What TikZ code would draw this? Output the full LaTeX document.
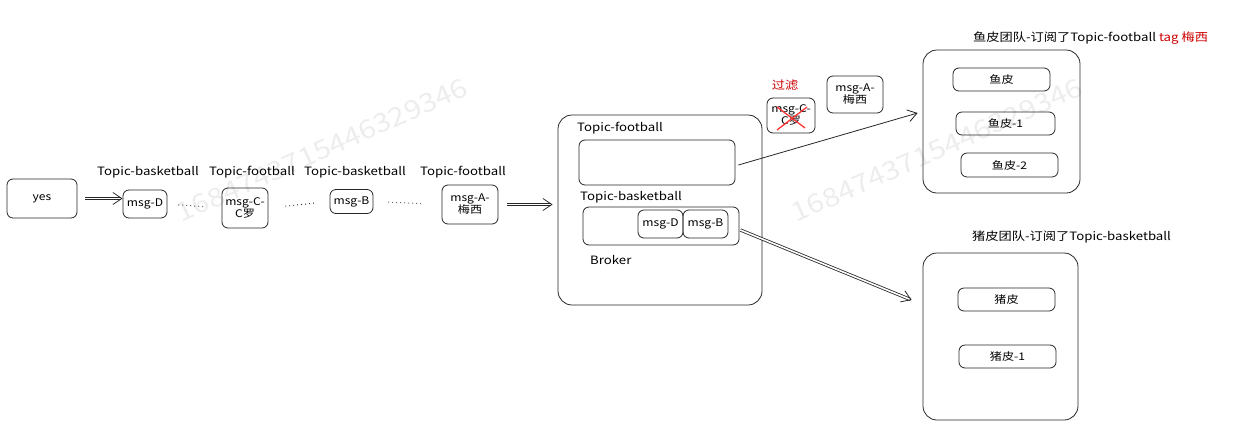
\documentclass[tikz,border=0pt]{standalone}
\usepackage{fontspec}
\setmainfont{Noto Sans CJK SC}[FakeStretch=1.15]
\usetikzlibrary{arrows.meta, positioning}
\usepackage{xcolor}

\begin{document}
\begin{tikzpicture}[ 
x=1pt, y=-1pt,
font=\fontsize{11.5}{13}\selectfont,
line/.style={draw=black!85, line width=0.8pt},
msg/.style={line, 
rectangle, 
rounded corners=6pt, 
inner sep=1pt, 
font=\fontsize{10.5}{12}\selectfont, 
align=center}, 
group/.style={line, 
rectangle, 
rounded corners=14pt}, 
lbl/.style={inner sep=0pt}, 
arrow/.style={-{Straight Barb[length=9pt, width=12pt]}, line}, 
dblarrow/.style={-{Straight Barb[length=9pt, width=12pt]}, line, double, double distance=1.6pt}, 
dots/.style={line, line width=1pt, dash pattern=on 0.8pt off 3.2pt}, 
watermark/.style={text=black!7, font=\fontsize{26}{26}\selectfont, rotate=24}
]

\useasboundingbox (0,0) rectangle (1234,437);

\node[watermark] (wm0) at (322,150) {1684743715446329346};
\node[watermark] (wm1) at (937,150) {1684743715446329346};

\node[msg, minimum width=70pt, minimum height=39pt] (yes) at (42,198.5) {yes};
\node[msg, minimum width=44pt, minimum height=28pt] (msgD) at (145,204) {msg-D};
\node[msg, minimum width=46pt, minimum height=40pt] (msgC) at (245,208) {msg-C-\\C罗};
\node[msg, minimum width=43pt, minimum height=24pt] (msgB) at (351.5,201.5) {msg-B};
\node[msg, minimum width=56pt, minimum height=39pt] (msgA) at (470,204.5) {msg-A-\\梅西};

\node[lbl] (topicD) at (148,172) {Topic-basketball};
\node[lbl] (topicC) at (252,172) {Topic-football};
\node[lbl] (topicB) at (355,172) {Topic-basketball};
\node[lbl] (topicA) at (463,172) {Topic-football};

\draw[dblarrow] ([xshift=8pt]yes.east) -- (yes.east -| msgD.west);
\draw[dots, shorten <=11pt, shorten >=16pt] (msgD.east) -- (msgC.west);
\draw[dots, shorten <=17pt, shorten >=15pt] (msgC.east) -- (msgB.west);
\draw[dots, shorten <=15pt, shorten >=19pt] (msgB.east) -- (msgA.west);

\node[group, minimum width=204pt, minimum height=190pt] (broker) at (660,210) {};
\node[lbl, anchor=west] (topicFb) at (577,128) {Topic-football};
\node[msg, minimum width=156pt, minimum height=45pt] (fbQueue) at (657,162.5) {};
\node[lbl, anchor=west] (topicBb) at (580,197) {Topic-basketball};
\node[msg, minimum width=156pt, minimum height=38pt] (bbQueue) at (661,226) {};
\node[msg, minimum width=45pt, minimum height=28pt] (inD) at (660.5,224) {msg-D};
\node[msg, minimum width=45pt, minimum height=28pt] (inB) at (705.5,224) {msg-B};
\node[lbl, anchor=west] (brokerLbl) at (590,260) {Broker};

\draw[dblarrow] ([xshift=9pt]msgA.east) -- ([xshift=-5pt]msgA.east -| broker.west);

\node[lbl, text=red!80!black] (filter) at (785,85) {过滤};
\node[msg, minimum width=48pt, minimum height=35pt] (dropC) at (791,115.5) {msg-C-\\C罗};
\draw[red!80, line width=1.3pt] ([xshift=-14pt, yshift=8.5pt]dropC.center) -- ([xshift=14pt, yshift=-12.5pt]dropC.center);
\draw[red!80, line width=1.3pt] ([xshift=-14pt, yshift=-14.5pt]dropC.center) -- ([xshift=16pt, yshift=8.5pt]dropC.center);
\node[msg, minimum width=56pt, minimum height=37pt] (passA) at (855,94.5) {msg-A-\\梅西};

\node[group, minimum width=157pt, minimum height=143pt] (fish) at (1001.5,121.5) {};
\node[lbl, anchor=west] (fishLbl) at (973,38) {鱼皮团队-订阅了Topic-football \textcolor{red!80!black}{tag 梅西}};
\node[msg, minimum width=97pt, minimum height=23pt] (fish0) at (1001.5,79.5) {鱼皮};
\node[msg, minimum width=99pt, minimum height=23pt] (fish1) at (1005.5,123.5) {鱼皮-1};
\node[msg, minimum width=97pt, minimum height=24pt] (fish2) at (1009.5,165) {鱼皮-2};

\node[group, minimum width=155pt, minimum height=167pt] (pig) at (1000.5,336.5) {};
\node[lbl, anchor=west] (pigLbl) at (972,237) {猪皮团队-订阅了Topic-basketball};
\node[msg, minimum width=97pt, minimum height=23pt] (pig0) at (1006.5,299.5) {猪皮};
\node[msg, minimum width=97pt, minimum height=23pt] (pig1) at (1007.5,356.5) {猪皮-1};

\draw[arrow] ([xshift=3pt, yshift=-2.5pt]fbQueue.east) -- ([xshift=-5pt, yshift=8.5pt]fish.west);
\draw[dblarrow] ([xshift=1pt, yshift=-4pt]bbQueue.east) -- ([xshift=-11pt, yshift=36.5pt]pig.west);

\end{tikzpicture}
\end{document}
